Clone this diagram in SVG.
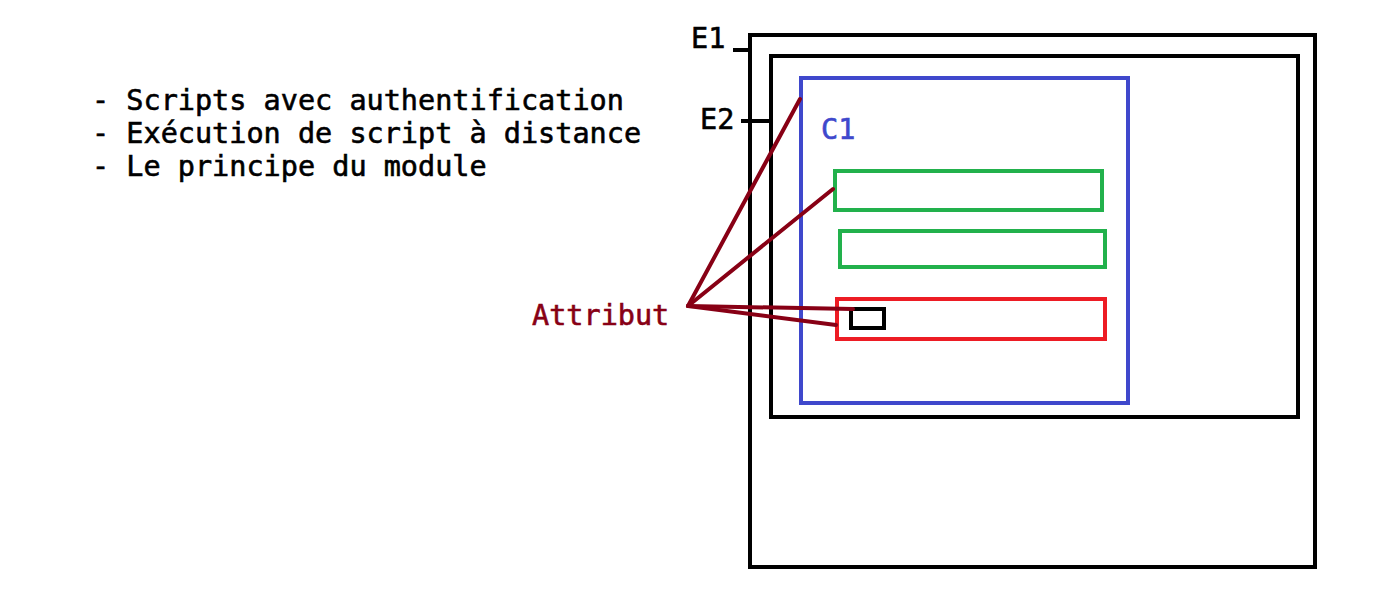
<svg xmlns="http://www.w3.org/2000/svg" width="1376" height="591" viewBox="0 0 1376 591">
<style>
text{font-family:"DejaVu Sans Mono","Liberation Mono",monospace;font-size:28.5px;stroke-width:0.6}
.t{fill:#000;stroke:#000}
.blk{fill:none;stroke:#000;stroke-width:4}
.blue{fill:none;stroke:#3f48cc;stroke-width:4}
.green{fill:none;stroke:#22b14c;stroke-width:4}
.red{fill:none;stroke:#ed1c24;stroke-width:4}
.con{stroke:#880015;stroke-width:4;stroke-linecap:round;fill:none}
</style>
<rect width="1376" height="591" fill="#fff"/>
<g id="notes">
<text class="t" x="92" y="110">- Scripts avec authentification</text>
<text class="t" x="92" y="143">- Exécution de script à distance</text>
<text class="t" x="92" y="176">- Le principe du module</text>
</g>
<g id="E1">
<rect class="blk" x="750" y="35" width="565" height="532"/>
<text class="t" x="691" y="48">E1</text>
</g>
<g id="E2">
<rect class="blk" x="771" y="56" width="527" height="361"/>
<text class="t" x="700" y="129">E2</text>
</g>
<g id="C1">
<rect class="blue" x="801" y="78" width="327" height="325"/>
<text x="821" y="139" fill="#3f48cc" stroke="#3f48cc">C1</text>
</g>
<g id="field1"><rect class="green" x="835" y="171" width="267" height="39"/></g>
<g id="field2"><rect class="green" x="840" y="231" width="265" height="36"/></g>
<g id="field3"><rect class="red" x="837" y="299" width="268" height="40"/></g>
<g id="small"><rect class="blk" x="851" y="309" width="33" height="19"/></g>
<g id="attribut"><text x="532" y="325" fill="#880015" stroke="#880015">Attribut</text></g>
<g id="connectors">
<line class="blk" x1="733" y1="50" x2="750" y2="50"/>
<line class="blk" x1="741" y1="121" x2="773" y2="121"/>
<line class="con" x1="688" y1="306" x2="800" y2="99"/>
<line class="con" x1="688" y1="306" x2="833" y2="189"/>
<line class="con" x1="688" y1="306" x2="853" y2="309"/>
<line class="con" x1="688" y1="306" x2="836" y2="325"/>
</g>
</svg>
